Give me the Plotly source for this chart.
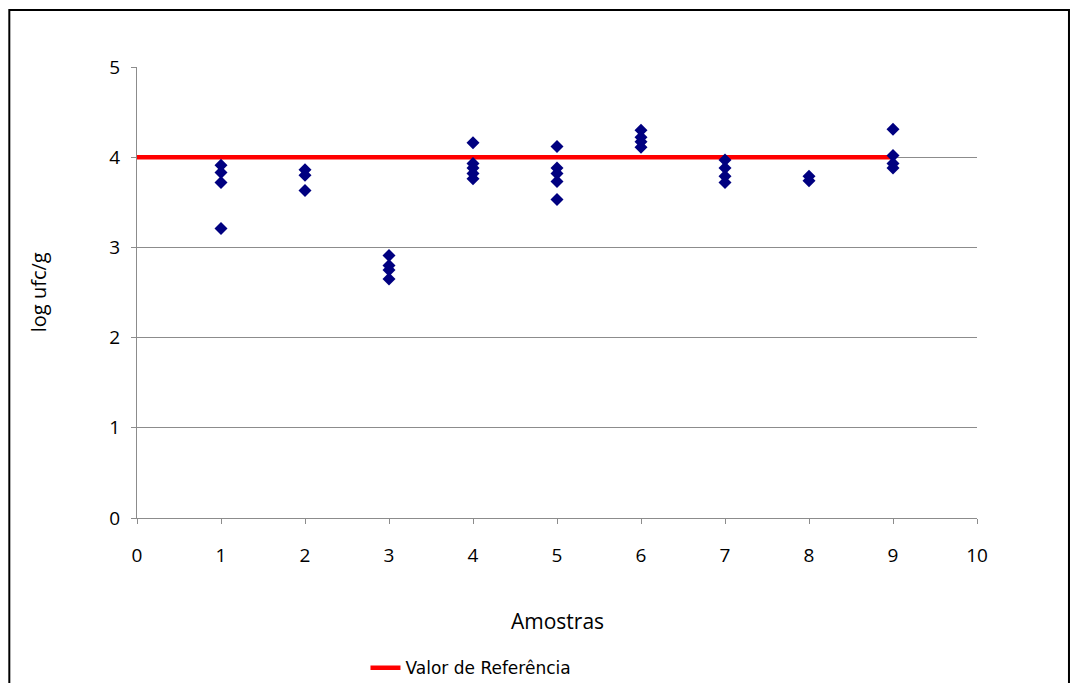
import plotly.graph_objects as go

# Contagens por amostra (log ufc/g)
amostra_1 = [3.91, 3.83, 3.72, 3.21]
amostra_2 = [3.86, 3.80, 3.63]
amostra_3 = [2.91, 2.80, 2.75, 2.65]
amostra_4 = [4.16, 3.93, 3.88, 3.82, 3.76]
amostra_5 = [4.12, 3.88, 3.82, 3.73, 3.53]
amostra_6 = [4.30, 4.22, 4.17, 4.11]
amostra_7 = [3.97, 3.88, 3.79, 3.72]
amostra_8 = [3.79, 3.74]
amostra_9 = [4.31, 4.02, 3.93, 3.88]

amostras = [amostra_1, amostra_2, amostra_3, amostra_4, amostra_5,
            amostra_6, amostra_7, amostra_8, amostra_9]

# Valor de referência (log ufc/g) de 0 a 9
ref_x = [0, 9]
ref_y = [4, 4]

xs, ys = [], []
for i, vals in enumerate(amostras, start=1):
    xs.extend([i] * len(vals))
    ys.extend(vals)

FONT = "Open Sans"
GRID = "#8c8c8c"

fig = go.Figure()
fig.add_trace(go.Scatter(
    x=ref_x, y=ref_y, mode="lines",
    line=dict(color="#ff0000", width=4.5),
    name="Valor de Referência", showlegend=True,
))
fig.add_trace(go.Scatter(
    x=xs, y=ys, mode="markers",
    marker=dict(symbol="diamond", size=10, color="#000080"),
    showlegend=False,
))

fig.update_layout(
    width=1078, height=683,
    margin=dict(l=137, r=101, t=67, b=165, autoexpand=False),
    paper_bgcolor="white", plot_bgcolor="white",
    font=dict(family=FONT, size=19, color="#000000"),
    xaxis=dict(
        range=[0, 10], dtick=1, tick0=0,
        showgrid=False, zeroline=False,
        showline=True, linecolor=GRID, linewidth=1,
        ticks="outside", ticklen=5, tickcolor=GRID,
        ticklabelstandoff=15,
        tickfont=dict(family=FONT, size=19),
    ),
    yaxis=dict(
        range=[0, 5], dtick=1, tick0=0,
        showgrid=True, gridcolor=GRID, gridwidth=1,
        zeroline=False,
        showline=True, linecolor=GRID, linewidth=1,
        ticks="outside", ticklen=5, tickcolor=GRID,
        ticklabelstandoff=7,
        tickfont=dict(family=FONT, size=19),
    ),
    legend=dict(
        orientation="h", x=0.272, xanchor="left",
        y=-0.333, yanchor="middle",
        font=dict(family="DejaVu Sans", size=17),
        bgcolor="rgba(0,0,0,0)",
    ),
    annotations=[
        dict(text="Amostras", xref="paper", yref="paper",
             x=0.5, y=-0.228, xanchor="center", yanchor="middle",
             showarrow=False, font=dict(family=FONT, size=21)),
        dict(text="log ufc/g", xref="paper", yref="paper",
             x=-0.117, y=0.5, xanchor="center", yanchor="middle",
             textangle=-90, showarrow=False,
             font=dict(family=FONT, size=20)),
    ],
    shapes=[
        dict(type="rect", xref="paper", yref="paper",
             x0=-0.152, x1=1.1095, y0=-0.42, y1=1.1264,
             line=dict(color="black", width=2), layer="below"),
    ],
)

fig.write_html("out.html")
